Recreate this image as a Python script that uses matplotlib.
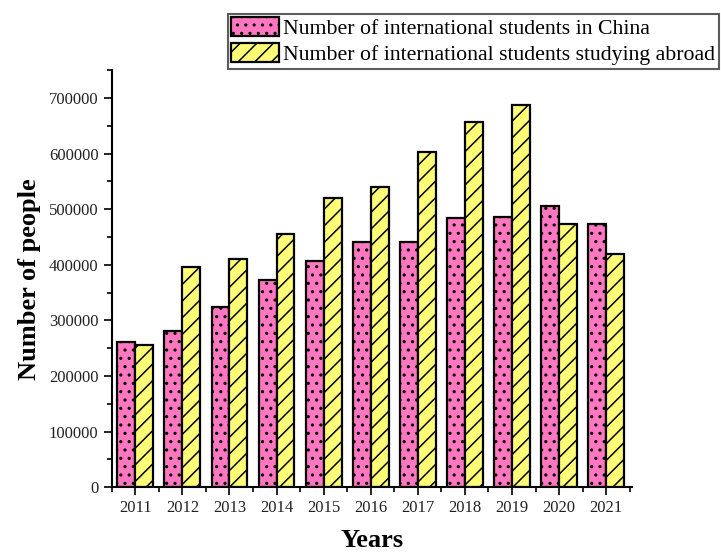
import matplotlib
matplotlib.use("Agg")
import matplotlib.pyplot as plt
import numpy as np
from matplotlib.ticker import MultipleLocator

years = ["2011", "2012", "2013", "2014", "2015", "2016", "2017", "2018", "2019", "2020", "2021"]
in_china = [261000, 281200, 324600, 373600, 407600, 440300, 440300, 483700, 486800, 506400, 473000]
abroad = [255600, 396900, 410500, 456400, 520700, 539900, 603000, 656600, 688200, 473700, 420100]
series_names = ["Number of international students in China",
                "Number of international students studying abroad"]

plt.rcParams['font.family'] = ['Liberation Serif', 'DejaVu Serif']
plt.rcParams['hatch.linewidth'] = 1.1

fig = plt.figure(figsize=(7.21, 5.53), dpi=100)
ax = fig.add_axes([0.155, 0.1188, 0.7216, 0.7542])

x = np.arange(len(years))
w = 0.38
b1 = ax.bar(x - w/2, in_china, w, color='#FF77C0', edgecolor='black', linewidth=1.6,
            hatch='..', label=series_names[0])
b2 = ax.bar(x + w/2, abroad, w, color='#FFFF77', edgecolor='black', linewidth=1.6,
            hatch='//', label=series_names[1])

ax.set_xlim(-0.5, len(years) - 0.45)
ax.set_ylim(0, 750000)
ax.set_xticks(x)
ax.set_xticklabels(years)
ax.xaxis.set_minor_locator(matplotlib.ticker.FixedLocator(np.arange(-0.5, len(years), 1.0)))
ax.yaxis.set_major_locator(MultipleLocator(100000))
ax.yaxis.set_minor_locator(MultipleLocator(50000))
ax.tick_params(axis='both', which='major', direction='out', length=6, width=1.2, labelsize=12,
               labelcolor='#222222')
ax.tick_params(axis='both', which='minor', direction='out', length=3.5, width=1.2)
for s in ['top', 'right']:
    ax.spines[s].set_visible(False)
for s in ['left', 'bottom']:
    ax.spines[s].set_linewidth(1.5)

ax.set_xlabel("Years", fontsize=19, fontweight='bold', labelpad=9)
ax.set_ylabel("Number of people", fontsize=19, fontweight='bold', labelpad=6)

leg = fig.legend(handles=[b1, b2], loc='upper left', bbox_to_anchor=(0.316, 0.975),
                 bbox_transform=fig.transFigure, fontsize=15.7, frameon=True,
                 fancybox=False, edgecolor='#333333', handlelength=2.2, handleheight=0.95,
                 handletextpad=0.2, labelspacing=0.2, borderpad=0.15, borderaxespad=0)
leg.get_frame().set_linewidth(1.5)

fig.savefig("out.png", dpi=100)
